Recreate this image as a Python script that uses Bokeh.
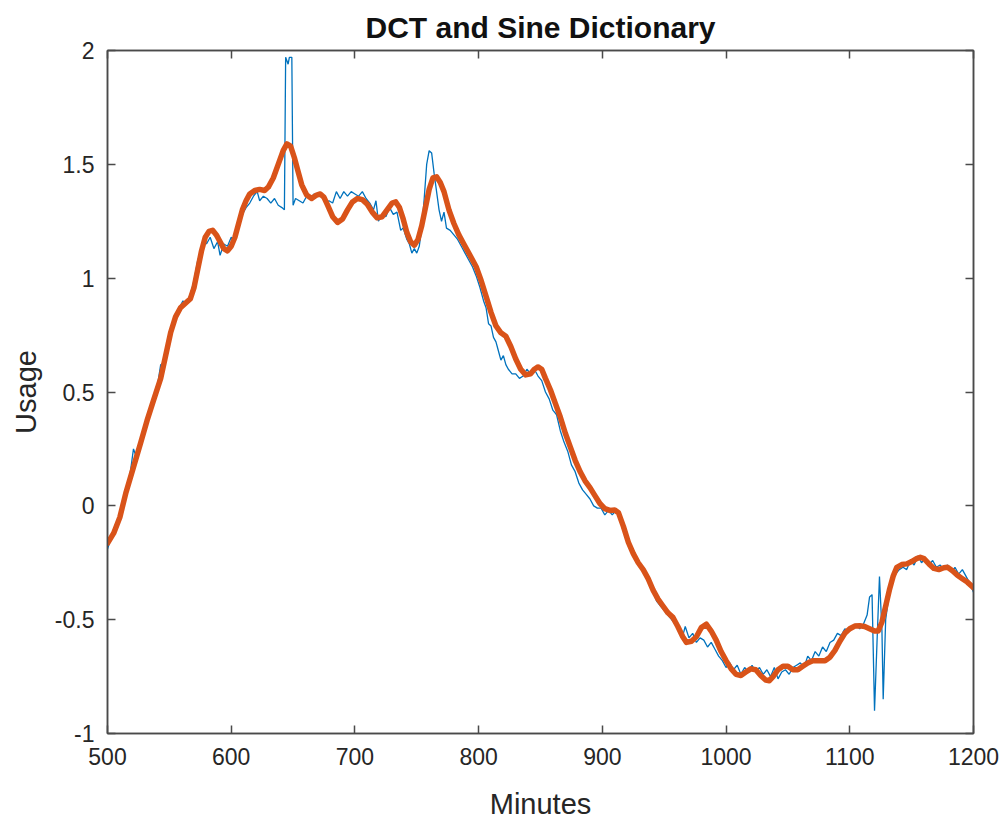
from bokeh.plotting import figure
from bokeh.models import LinearAxis, FixedTicker, CustomJSTickFormatter, Range1d
from bokeh.embed import file_html
from bokeh.resources import INLINE

# Raw usage (blue, noisy)
raw_minutes = [500, 503, 506, 509, 512, 515, 518, 521, 523, 526, 529, 532, 535, 538, 541, 543, 546, 549, 552, 555,
               558, 561, 564, 567, 570, 573, 576, 578, 580, 583, 586, 589, 591, 594, 597, 600, 603, 606, 609, 612,
               615, 618, 621, 623, 626, 629, 632, 635, 638, 641, 643, 644, 646, 647, 649, 650, 652, 655, 658, 661,
               664, 667, 670, 673, 676, 679, 682, 685, 688, 691, 694, 697, 700, 703, 706, 709, 712, 715, 717, 719,
               722, 725, 728, 731, 734, 737, 739, 742, 744, 746, 748, 750, 752, 754, 756, 758, 760, 762, 764, 766,
               768, 770, 772, 774, 777, 780, 783, 786, 789, 792, 795, 798, 801, 804, 806, 808, 810, 812, 814, 816,
               818, 820, 822, 824, 827, 830, 833, 836, 839, 842, 845, 848, 851, 854, 857, 860, 863, 866, 869, 872,
               875, 878, 881, 884, 887, 890, 893, 896, 899, 902, 905, 908, 911, 914, 917, 920, 923, 926, 929, 932,
               935, 938, 941, 944, 947, 950, 953, 956, 959, 962, 965, 967, 970, 973, 976, 979, 982, 985, 988, 991,
               994, 997, 1000, 1003, 1006, 1009, 1012, 1015, 1018, 1021, 1024, 1027, 1030, 1033, 1036, 1039, 1042,
               1045, 1048, 1051, 1054, 1057, 1060, 1063, 1066, 1069, 1072, 1075, 1078, 1081, 1084, 1087, 1090, 1093,
               1096, 1099, 1102, 1105, 1108, 1111, 1114, 1116, 1118, 1120, 1122, 1124, 1126, 1127, 1129, 1131, 1134,
               1137, 1140, 1143, 1146, 1149, 1152, 1155, 1158, 1161, 1164, 1167, 1170, 1173, 1176, 1179, 1182, 1185,
               1188, 1191, 1194, 1197, 1200]
raw_usage = [-0.19, -0.14, -0.10, -0.06, 0.00, 0.06, 0.13, 0.25, 0.22, 0.28, 0.33, 0.38, 0.42, 0.47, 0.55, 0.62, 0.63, 0.72, 0.78, 0.84,
             0.87, 0.90, 0.89, 0.93, 0.99, 1.08, 1.12, 1.17, 1.15, 1.18, 1.13, 1.16, 1.10, 1.15, 1.14, 1.18, 1.16, 1.24, 1.28, 1.31,
             1.33, 1.36, 1.38, 1.34, 1.36, 1.35, 1.33, 1.35, 1.32, 1.31, 1.30, 1.97, 1.94, 1.97, 1.97, 1.32, 1.35, 1.34, 1.33, 1.36,
             1.35, 1.37, 1.36, 1.36, 1.33, 1.34, 1.33, 1.38, 1.35, 1.38, 1.36, 1.38, 1.37, 1.36, 1.38, 1.35, 1.33, 1.30, 1.34, 1.25,
             1.28, 1.27, 1.31, 1.28, 1.29, 1.21, 1.22, 1.17, 1.15, 1.11, 1.13, 1.11, 1.14, 1.22, 1.35, 1.50, 1.56, 1.55, 1.46, 1.38,
             1.30, 1.25, 1.29, 1.22, 1.21, 1.19, 1.17, 1.14, 1.11, 1.08, 1.05, 1.01, 0.96, 0.90, 0.87, 0.80, 0.79, 0.74, 0.72, 0.68,
             0.64, 0.66, 0.62, 0.60, 0.58, 0.58, 0.56, 0.57, 0.60, 0.58, 0.60, 0.57, 0.55, 0.50, 0.47, 0.42, 0.40, 0.33, 0.28, 0.24,
             0.18, 0.15, 0.10, 0.07, 0.05, 0.03, 0.00, -0.01, -0.01, -0.04, -0.02, -0.04, -0.02, -0.03, -0.08, -0.14, -0.18, -0.22, -0.24, -0.28,
             -0.30, -0.33, -0.38, -0.42, -0.44, -0.46, -0.48, -0.50, -0.52, -0.55, -0.57, -0.53, -0.58, -0.56, -0.60, -0.58, -0.59, -0.62, -0.60, -0.63,
             -0.66, -0.68, -0.71, -0.69, -0.72, -0.70, -0.74, -0.71, -0.73, -0.70, -0.73, -0.71, -0.74, -0.72, -0.75, -0.71, -0.76,
             -0.73, -0.72, -0.74, -0.71, -0.70, -0.69, -0.71, -0.66, -0.68, -0.64, -0.66, -0.62, -0.64, -0.60, -0.59, -0.56, -0.57,
             -0.54, -0.55, -0.53, -0.52, -0.54, -0.52, -0.48, -0.40, -0.39, -0.90, -0.60, -0.31, -0.55, -0.85, -0.50, -0.42, -0.33,
             -0.30, -0.28, -0.27, -0.28, -0.24, -0.26, -0.22, -0.25, -0.23, -0.26, -0.24, -0.27, -0.26, -0.28, -0.26, -0.29, -0.27,
             -0.30, -0.28, -0.31, -0.34, -0.38]

# DCT + sine dictionary reconstruction (orange, smooth)
fit_minutes = [500, 505, 510, 515, 521, 527, 532, 537, 543, 547, 551, 555, 559, 563, 567, 570, 573, 576, 579, 582,
               585, 588, 591, 594, 597, 600, 603, 606, 609, 612, 615, 619, 623, 627, 630, 634, 638, 642, 645, 648,
               651, 654, 657, 661, 665, 669, 672, 675, 678, 682, 686, 690, 694, 698, 702, 706, 710, 714, 718, 722,
               726, 730, 733, 736, 739, 742, 745, 748, 751, 754, 757, 760, 763, 766, 769, 772, 776, 780, 784, 788,
               793, 798, 802, 806, 810, 814, 818, 822, 826, 830, 834, 838, 842, 845, 848, 851, 854, 858, 862, 866,
               870, 874, 878, 882, 886, 890, 894, 898, 902, 906, 910, 913, 917, 921, 925, 929, 933, 937, 941, 945,
               949, 953, 957, 961, 965, 968, 972, 976, 980, 984, 988, 992, 996, 1000, 1004, 1008, 1012, 1016, 1020,
               1024, 1028, 1032, 1035, 1038, 1042, 1046, 1050, 1054, 1058, 1062, 1066, 1070, 1075, 1080, 1084, 1088,
               1092, 1096, 1100, 1104, 1108, 1112, 1116, 1120, 1123, 1126, 1129, 1132, 1135, 1138, 1142, 1146, 1150,
               1154, 1157, 1160, 1164, 1168, 1172, 1176, 1179, 1183, 1187, 1191, 1195, 1200]
fit_usage = [-0.165, -0.12, -0.05, 0.06, 0.17, 0.28, 0.375, 0.46, 0.56, 0.66, 0.76, 0.83, 0.87, 0.89, 0.91, 0.96, 1.04, 1.12, 1.18, 1.205,
             1.21, 1.19, 1.16, 1.13, 1.12, 1.14, 1.18, 1.24, 1.30, 1.34, 1.37, 1.385, 1.39, 1.385, 1.40, 1.44, 1.50, 1.56, 1.59, 1.58,
             1.53, 1.47, 1.41, 1.365, 1.35, 1.365, 1.37, 1.355, 1.32, 1.27, 1.245, 1.26, 1.30, 1.335, 1.35, 1.345, 1.325, 1.29, 1.265, 1.27,
             1.30, 1.33, 1.335, 1.31, 1.26, 1.20, 1.16, 1.145, 1.17, 1.23, 1.31, 1.39, 1.44, 1.445, 1.42, 1.38, 1.30, 1.24, 1.19, 1.15,
             1.10, 1.05, 0.99, 0.92, 0.85, 0.79, 0.76, 0.745, 0.70, 0.645, 0.60, 0.575, 0.58, 0.60, 0.61, 0.60, 0.56, 0.51, 0.45, 0.39,
             0.32, 0.26, 0.20, 0.15, 0.11, 0.08, 0.045, 0.01, -0.012, -0.02, -0.018, -0.03, -0.09, -0.16, -0.21, -0.25, -0.28, -0.32, -0.37, -0.41,
             -0.44, -0.47, -0.49, -0.53, -0.575, -0.60, -0.595, -0.575, -0.535, -0.52, -0.55, -0.59, -0.64, -0.68, -0.715, -0.74, -0.745, -0.73, -0.716,
             -0.72, -0.745, -0.765, -0.768, -0.75, -0.72, -0.705, -0.705, -0.72, -0.72, -0.705, -0.69, -0.68, -0.68, -0.68, -0.665, -0.635,
             -0.595, -0.56, -0.54, -0.528, -0.527, -0.53, -0.54, -0.55, -0.55, -0.51, -0.44, -0.37, -0.31, -0.27, -0.258, -0.255, -0.245,
             -0.232, -0.226, -0.232, -0.255, -0.275, -0.28, -0.272, -0.27, -0.285, -0.305, -0.32, -0.335, -0.36]

x_ticks = [500, 600, 700, 800, 900, 1000, 1100, 1200]
y_ticks = [-1, -0.5, 0, 0.5, 1, 1.5, 2]

FONT = "Liberation Sans"
AX_COLOR = "#4a4a4a"
TXT_COLOR = "#262626"

p = figure(width=1000, height=810, output_backend="svg", toolbar_location=None,
           x_range=Range1d(500, 1200), y_range=Range1d(-1, 2),
           title="DCT and Sine Dictionary",
           min_border_left=107, min_border_right=27, min_border_top=50, min_border_bottom=77)
p.frame_width = 866
p.frame_height = 683

p.line(raw_minutes, raw_usage, line_color="#0072BD", line_width=1.3)
p.line(fit_minutes, fit_usage, line_color="#D95319", line_width=5.5, line_join="round", line_cap="round")

p.title.text_font = FONT
p.title.text_font_size = "30px"
p.title.text_font_style = "bold"
p.title.text_color = "#111111"
p.title.align = "center"
p.title.standoff = 14

p.xgrid.visible = False
p.ygrid.visible = False
p.outline_line_color = AX_COLOR
p.outline_line_width = 1.5
p.background_fill_color = "white"
p.border_fill_color = "white"

fmt = CustomJSTickFormatter(code="return String(Math.round(tick*10)/10);")

def style(ax, labels=True):
    ax.axis_line_color = AX_COLOR
    ax.axis_line_width = 1.5
    ax.major_tick_line_color = AX_COLOR
    ax.major_tick_line_width = 1.5
    ax.major_tick_in = 8
    ax.major_tick_out = 0
    ax.minor_tick_line_color = None
    ax.major_label_text_font = FONT
    ax.major_label_text_font_size = "23px"
    ax.major_label_text_color = TXT_COLOR
    ax.axis_label_text_font = FONT
    ax.axis_label_text_font_size = "29px"
    ax.axis_label_text_font_style = "normal"
    ax.axis_label_text_color = TXT_COLOR
    ax.formatter = fmt
    if not labels:
        ax.major_label_text_font_size = "0px"
        ax.major_label_standoff = 0

p.xaxis.ticker = FixedTicker(ticks=x_ticks)
p.yaxis.ticker = FixedTicker(ticks=y_ticks)
style(p.xaxis[0])
style(p.yaxis[0])
p.xaxis.axis_label = "Minutes"
p.yaxis.axis_label = "Usage"
p.xaxis.major_label_standoff = 14
p.yaxis.major_label_standoff = 13
p.xaxis.axis_label_standoff = 20
p.yaxis.axis_label_standoff = 10

top = LinearAxis(ticker=FixedTicker(ticks=x_ticks))
style(top, labels=False)
p.add_layout(top, "above")
right = LinearAxis(ticker=FixedTicker(ticks=y_ticks))
style(right, labels=False)
p.add_layout(right, "right")

open("out.html", "w").write(file_html(p, INLINE))
